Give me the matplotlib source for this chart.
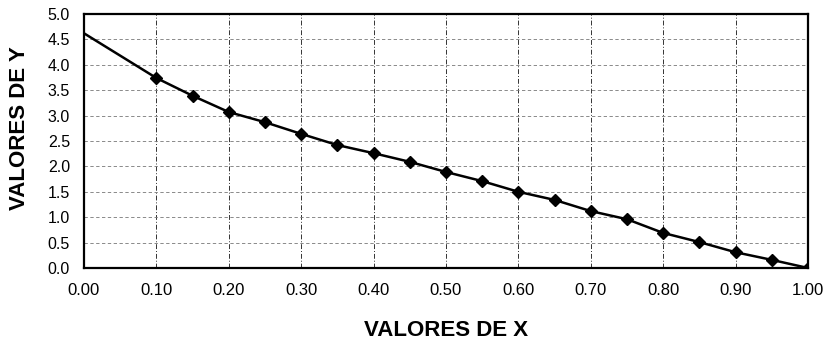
import matplotlib
matplotlib.use("Agg")
import matplotlib.pyplot as plt

x_line = [0.00, 0.10, 0.15, 0.20, 0.25, 0.30, 0.35, 0.40, 0.45, 0.50,
          0.55, 0.60, 0.65, 0.70, 0.75, 0.80, 0.85, 0.90, 0.95, 1.00]
y_line = [4.62, 3.74, 3.39, 3.07, 2.87, 2.64, 2.42, 2.26, 2.09, 1.89,
          1.71, 1.50, 1.34, 1.12, 0.96, 0.69, 0.51, 0.31, 0.16, 0.00]
x_pts = x_line[1:]
y_pts = y_line[1:]
x_ticks = [0.0, 0.1, 0.2, 0.3, 0.4, 0.5, 0.6, 0.7, 0.8, 0.9, 1.0]
y_ticks = [0.0, 0.5, 1.0, 1.5, 2.0, 2.5, 3.0, 3.5, 4.0, 4.5, 5.0]

plt.rcParams['font.family'] = ['Liberation Sans', 'DejaVu Sans']

fig = plt.figure(figsize=(8.31, 3.41), dpi=100)
ax = fig.add_axes([84/831, 73/341, 724/831, 254/341])

ax.plot(x_line, y_line, color='black', lw=1.8, zorder=3)
ax.plot(x_pts, y_pts, linestyle='none', marker='D', markersize=6.5,
        color='black', zorder=4)

ax.set_xlim(0, 1)
ax.set_ylim(0, 5)
ax.set_xticks(x_ticks)
ax.set_yticks(y_ticks)
ax.set_xticklabels([f"{v:.2f}" for v in x_ticks])
ax.set_yticklabels([f"{v:.1f}" for v in y_ticks])
ax.tick_params(axis='x', length=0, labelsize=12, pad=11)
ax.tick_params(axis='y', length=0, labelsize=11.5, pad=10)

ax.xaxis.grid(True, color='#333333', linestyle=(0, (5, 2, 1, 2)), linewidth=0.7)
ax.yaxis.grid(True, color='#777777', linestyle=(0, (4, 3)), linewidth=0.6)
ax.set_axisbelow(True)
for s in ax.spines.values():
    s.set_linewidth(1.6)
    s.set_color('black')

ax.set_xlabel('VALORES DE X', fontsize=16, fontweight='bold', labelpad=16)
ax.set_ylabel('VALORES DE Y', fontsize=16, fontweight='bold')
ax.yaxis.set_label_coords(-0.075, 0.55)

fig.savefig('out.png', dpi=100)
